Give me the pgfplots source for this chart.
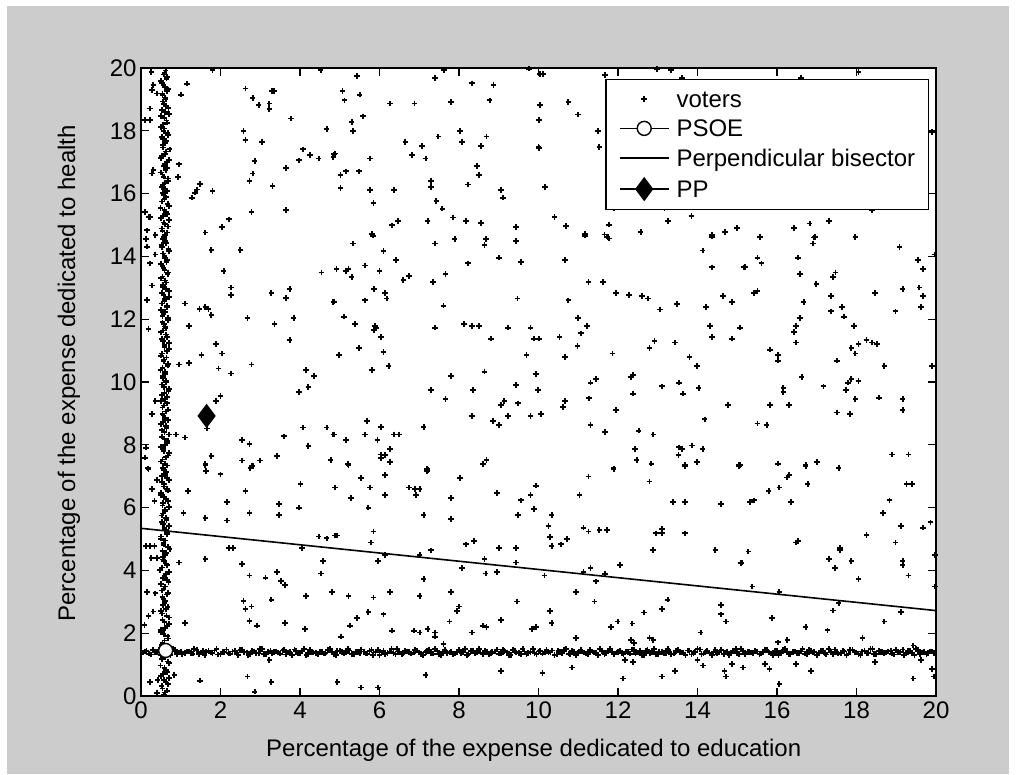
\documentclass[border=0pt]{standalone}
\usepackage{pgfplots}
\pgfplotsset{compat=1.18}
\usepackage{fontspec}
\setmainfont{Liberation Sans}
\definecolor{figgray}{RGB}{204,204,204}
\pgfplotsset{
  mylegend/.style={legend image code/.code={\draw[mark repeat=2,mark phase=2,##1] plot coordinates {(0pt,0pt)(24.5pt,0pt)(49pt,0pt)};}},
  mylinelegend/.style={legend image code/.code={\draw[##1] (0pt,0pt) -- (49pt,0pt);}},
  voterstyle/.style={only marks, mark=+, mark size=2.8pt, line width=1.8pt, black},
}
\begin{document}
\begin{tikzpicture}[x=1pt,y=1pt]
\fill[white] (0,0) rectangle (1025,774);
\fill[figgray] (7,0) rectangle (1009,768);
\begin{axis}[
  at={(141pt,78pt)}, anchor=south west,
  scale only axis, width=795pt, height=628pt,
  xmin=0, xmax=20, ymin=0, ymax=20,
  xtick={0,2,...,20}, ytick={0,2,...,20},
  tick align=inside, major tick length=8pt,
  axis line style={line width=1.3pt},
  every tick/.style={black, line width=1.3pt},
  tick label style={font=\fontsize{24}{28}\selectfont},
  yticklabel style={xshift=-1pt},
  xticklabel style={yshift=-2pt},
  /pgf/number format/assume math mode=true,
  label style={font=\fontsize{24}{28}\selectfont},
  xlabel={Percentage of the expense dedicated to education},
  ylabel={Percentage of the expense dedicated to health},
  xlabel style={at={(axis description cs:0.494,-0.086)}, anchor=center},
  ylabel style={at={(axis description cs:-0.0906,0.514)}, anchor=center},
  axis background/.style={fill=white},
  legend cell align=left,
  legend style={at={(axis description cs:0.9912,0.9825)}, anchor=north east,
    draw=black, line width=1.4pt, fill=white,
    font=\fontsize{24}{28}\selectfont,
    inner xsep=13pt, inner ysep=9.6pt, row sep=10.6pt,
    nodes={inner sep=0pt, text height=18pt, text depth=1pt},
    /tikz/every odd column/.append style={column sep=7pt}},
]
\addplot[voterstyle, mylegend]
coordinates {
(0.26,19.88)(0.31,19.45)(0.27,19.29)(0.40,19.19)(0.23,18.71)(0.10,18.34)(0.23,18.34)(0.31,16.75)(0.27,16.64)(0.10,15.42)(0.19,15.26)(0.23,15.26)(0.15,14.83)(0.36,14.68)
(1.15,19.5)(1.01,19.15)(0.96,16.93)(0.93,16.53)(1.49,16.30)(1.41,16.13)(1.36,16.03)(1.28,15.87)(1.80,16.08)(1.62,14.76)(2.04,14.94)(2.22,15.18)(1.80,19.93)
(2.63,19.35)(2.81,19.05)(2.96,18.82)(3.23,18.87)(3.23,18.69)(3.30,19.27)(3.34,19.27)(3.78,18.39)(2.58,17.99)(2.63,17.70)(3.05,17.65)(2.86,17.04)(2.81,16.64)(2.73,16.41)(3.31,16.24)(3.65,16.82)(3.97,17.06)(4.07,17.41)(4.25,17.22)(4.47,17.12)(4.85,17.25)(4.67,18.05)(4.52,19.93)(2.78,15.42)(3.65,15.47)
(5.44,19.75)(5.07,19.27)(5.50,19.15)(5.12,18.97)(6.27,18.87)(6.88,18.87)(7.80,18.92)(7.39,19.69)(7.63,19.93)(8.32,19.51)(8.87,19.45)(8.77,18.97)(9.76,19.98)(10.03,18.82)(10.01,18.34)(10.01,17.46)
(5.58,18.46)(5.30,18.28)(5.34,17.99)(6.65,17.65)(7.07,17.52)(7.48,17.82)(8.03,17.99)(8.08,17.64)(8.69,17.82)(8.55,17.52)(4.88,17.28)(4.84,17.17)(5.76,17.12)(6.82,17.22)(7.16,17.12)(8.45,16.87)(8.50,16.59)
(5.02,16.59)(5.16,16.71)(5.49,16.71)(5.02,16.18)(5.76,16.11)(6.37,16.11)(7.29,16.41)(7.29,16.21)(8.22,16.29)(9.06,16.11)(9.10,15.87)(5.85,15.70)(7.43,15.77)(7.58,15.52)(7.85,15.24)(8.18,15.12)(8.55,15.06)(9.43,14.94)(6.32,14.99)(6.47,15.12)(7.21,15.12)(5.81,14.71)(7.89,14.55)(8.68,14.55)
(10.04,19.80)(10.12,19.80)(11.68,19.77)(13.34,19.93)(12.98,19.97)(13.61,19.69)(10.04,18.82)(10.75,18.92)(10.0,18.34)(10.99,18.52)(11.49,17.99)(10.0,17.49)(11.53,17.49)(10.16,16.21)(11.89,15.55)(13.17,15.55)
(10.40,15.26)(10.69,14.96)(11.17,14.71)(11.78,15.01)(11.66,14.70)(11.74,14.62)(12.57,14.78)(13.26,15.12)(13.85,15.29)(14.37,14.68)(14.69,14.78)(15.00,14.91)
(16.61,19.69)(18.05,19.88)(18.39,15.47)(16.43,14.91)(16.82,15.05)(17.31,15.12)(15.57,14.62)(16.96,14.62)(17.97,14.62)(19.90,17.97)
(0.12,14.55)(0.15,14.31)(0.36,14.06)(0.23,13.78)(0.27,13.07)(0.15,12.61)(0.19,11.68)(0.36,9.39)(0.27,8.98)(0.12,7.91)(0.10,7.59)(0.17,7.25)
(1.77,14.20)(2.50,14.20)(2.08,13.54)(2.27,13.01)(2.27,12.77)(3.28,12.84)(3.65,12.68)(3.74,12.96)(4.54,13.49)(4.85,12.56)(1.11,12.50)(1.47,12.32)(1.62,12.39)(1.70,12.32)(1.77,12.13)(2.68,12.03)(3.36,11.85)(3.84,12.03)(1.20,11.79)(3.74,11.34)
(1.89,11.21)(2.04,10.91)(1.52,10.86)(0.96,10.56)(1.20,10.61)(1.95,10.43)(2.27,10.27)(2.78,10.56)(4.15,10.38)(4.35,10.20)(3.97,9.69)(4.21,9.85)(2.00,9.56)(1.89,9.39)(1.66,8.52)(4.07,8.55)(4.67,8.55)(4.85,8.33)(0.88,8.33)(1.11,8.23)
(2.54,8.15)(2.73,8.02)(3.60,8.27)(4.21,7.97)(1.77,7.64)(1.62,7.39)(2.54,7.50)(3.00,7.50)(2.81,7.33)(2.75,7.25)(3.42,7.64)(4.77,7.50)
(5.34,14.41)(5.83,14.66)(6.10,14.18)(6.42,13.89)(7.39,14.41)(7.89,14.54)(8.67,14.54)(8.64,14.36)(9.43,14.49)(9.01,13.96)(9.56,13.83)(8.22,13.78)(4.92,13.60)(5.16,13.53)(5.22,13.60)(5.30,13.35)(5.63,13.71)(6.00,13.54)(6.60,13.25)(6.74,13.37)(7.34,13.19)(7.66,13.43)
(4.84,12.54)(5.63,12.60)(5.86,12.96)(6.14,12.83)(6.18,12.66)(7.61,12.43)(9.47,12.66)(5.11,12.08)(5.39,11.85)(5.89,11.79)(5.91,11.71)(5.86,11.65)(6.04,11.43)(7.39,11.73)(8.12,11.85)(8.32,11.79)(8.50,11.79)(9.23,11.73)(9.80,11.73)(8.81,11.38)(9.88,11.38)(10.01,11.38)
(5.49,11.08)(6.10,10.96)(4.98,10.86)(9.70,10.86)(5.81,10.38)(6.23,10.50)(7.80,10.20)(8.64,10.33)(9.93,10.26)(7.29,9.74)(7.66,9.45)(8.35,9.74)(9.43,9.91)(9.98,9.74)(9.06,9.27)(9.14,9.39)(9.48,9.32)(8.32,8.92)(8.86,8.75)(9.01,8.63)(9.24,8.92)(9.80,8.92)
(5.68,8.75)(6.04,8.57)(7.11,8.57)(4.84,8.33)(5.16,8.16)(5.63,8.33)(5.95,8.16)(6.37,8.33)(6.50,8.33)(6.27,7.86)(6.04,7.69)(6.14,7.67)(6.04,7.57)(6.27,7.45)(4.77,7.51)(5.21,7.39)(8.60,7.39)(8.69,7.51)(7.19,7.23)
(11.17,14.66)(11.72,14.63)(11.78,14.57)(14.37,14.63)(14.13,14.19)(14.37,13.65)(15.17,13.65)(10.67,13.89)(11.26,13.19)(11.63,13.19)(11.95,12.84)(12.28,12.78)(12.60,12.73)(12.75,12.66)(13.06,12.31)(13.49,12.48)(14.22,12.38)(14.64,12.73)(14.87,12.55)
(10.75,12.60)(10.99,12.03)(11.22,11.79)(11.07,11.55)(10.98,11.15)(10.53,11.43)(10.01,11.38)(10.67,10.79)(11.86,10.91)(12.92,11.31)(12.79,11.08)(13.44,11.26)(14.32,11.79)(14.37,11.43)(15.06,11.73)(14.87,11.38)(13.80,10.79)(13.99,10.50)
(9.93,10.26)(9.98,9.74)(11.31,9.98)(11.45,10.09)(12.32,10.16)(12.37,10.22)(12.37,9.63)(13.11,9.86)(13.53,9.98)(13.63,9.63)(14.03,9.80)(11.27,9.48)(10.67,9.39)(10.62,9.21)(10.06,8.98)(11.95,9.10)(14.77,9.27)(14.18,8.81)(11.31,8.63)(11.68,8.40)(12.52,8.45)(12.89,8.33)
(12.42,7.86)(12.47,7.51)(12.84,7.40)(13.54,7.92)(13.61,7.86)(13.52,7.68)(13.86,7.98)(14.13,7.86)(13.99,7.45)(13.68,7.35)(15.05,7.35)(11.89,7.25)
(15.56,14.60)(16.93,14.60)(16.90,14.41)(17.97,14.60)(19.08,14.30)(15.19,13.66)(15.51,13.96)(15.61,13.78)(16.53,13.96)(16.58,13.43)(19.54,13.89)(19.67,13.60)(19.96,14.06)(17.41,13.35)(17.47,13.49)(16.99,13.13)(15.42,12.84)(15.51,12.90)(17.36,12.73)(18.47,12.84)(19.16,12.96)(19.58,13.01)(19.67,12.73)
(16.67,12.55)(17.64,12.38)(17.36,12.25)(17.69,12.08)(18.98,12.25)(19.62,12.38)(16.58,12.03)(16.48,11.79)(16.43,11.60)(16.48,11.26)(17.93,11.79)(15.07,11.73)(17.87,11.08)(18.05,11.21)(17.97,10.91)(18.25,11.33)(18.39,11.26)(18.52,11.21)(17.51,10.68)(18.70,10.50)(19.90,10.50)
(15.83,11.03)(16.02,10.86)(16.02,10.68)(16.62,10.15)(17.17,9.86)(17.74,9.74)(17.78,9.98)(17.87,10.09)(18.05,10.03)(16.16,9.80)(16.16,9.67)(17.97,9.45)(18.57,9.50)(19.16,9.45)(19.16,9.10)(15.83,9.27)(16.30,9.27)(17.51,9.03)(17.83,8.98)(15.51,8.68)(15.74,8.63)
(18.89,7.69)(19.31,7.69)(15.07,7.36)(16.02,7.40)(16.72,7.36)(17.0,7.45)(17.55,7.28)
(0.19,7.23)(0.27,6.59)(0.41,6.88)(0.34,6.21)(0.12,4.78)(0.23,4.78)(0.34,4.78)(0.26,4.39)(0.40,4.39)(0.15,3.31)(0.36,3.27)(0.31,2.69)(0.19,2.55)(0.09,2.26)(0.23,0.44)(0.40,0.09)(0.42,0.51)
(1.62,7.36)(1.64,7.17)(2.00,7.06)(2.75,7.28)(2.79,7.34)(1.18,6.53)(1.07,5.82)(1.62,5.66)(2.16,6.17)(2.16,5.59)(2.63,6.53)(2.73,5.82)(3.47,6.12)(3.47,5.77)(4.01,6.75)(3.97,6.00)(4.88,6.64)(4.47,5.08)(4.67,5.02)(4.88,5.11)
(2.22,4.71)(2.31,4.71)(4.05,4.71)(0.96,4.25)(1.62,4.36)(2.54,4.20)(2.73,3.84)(3.13,3.77)(3.42,3.94)(3.52,3.67)(3.62,3.54)(4.58,4.30)(4.53,3.90)(4.79,3.31)(4.15,3.19)(3.28,3.07)(2.58,3.03)(2.63,2.77)(2.78,2.85)(2.73,2.39)(2.92,2.24)(1.11,2.32)(3.62,2.32)(4.12,2.14)
(0.84,0.67)(1.48,0.49)(2.68,0.62)(3.28,0.44)(2.86,0.14)(3.23,1.15)
(5.22,7.36)(7.19,7.17)(7.21,7.19)(5.54,6.94)(6.14,7.04)(4.89,6.64)(5.76,6.64)(5.28,6.30)(6.14,6.40)(6.74,6.64)(6.90,6.59)(7.01,6.59)(6.92,6.40)(8.03,6.94)(8.96,6.46)(7.80,6.30)(5.72,6.00)(7.11,5.77)(7.80,5.64)(9.56,6.23)(9.80,6.40)(9.93,6.70)(9.88,5.95)(9.48,5.77)
(4.94,5.11)(5.85,5.24)(5.78,4.89)(5.96,4.30)(6.14,4.49)(7.01,4.49)(7.30,4.64)(8.18,4.83)(8.37,4.94)(9.01,4.71)(9.43,4.71)(9.43,4.25)(8.64,4.37)(8.08,4.07)(8.67,3.90)(8.96,3.94)(7.11,3.72)
(4.80,3.31)(5.22,3.19)(5.85,3.14)(6.27,3.31)(7.01,3.19)(7.80,3.31)(9.46,3.01)(8.00,2.85)(7.95,2.71)(5.72,2.67)(5.44,2.48)(6.10,2.60)(5.26,2.24)(5.03,1.89)(6.32,2.08)(6.87,2.08)(7.01,2.02)(7.21,2.14)(7.39,2.02)(7.39,1.89)(7.61,1.66)(7.76,2.37)(8.32,2.02)(8.60,2.24)(8.69,2.19)(9.06,2.42)(9.84,2.14)(9.94,2.19)
(4.94,0.44)(5.54,0.27)(5.96,0.27)(7.16,0.67)(9.06,0.80)
(11.89,7.23)(11.26,6.99)(12.79,6.83)(13.68,7.31)(15.05,7.31)(9.93,6.70)(11.03,6.40)(13.39,6.17)(13.68,6.17)(14.59,6.11)(10.33,5.77)(10.25,5.42)(11.13,5.36)(11.26,5.24)(11.53,5.29)(11.72,5.29)(10.29,5.07)(10.33,4.77)(10.57,4.83)(10.71,5.00)
(12.95,5.18)(13.11,5.31)(13.11,5.18)(13.68,5.18)(12.88,4.65)(14.45,4.65)(15.10,4.23)(12.05,4.17)(10.15,3.84)(11.13,3.94)(11.31,4.07)(11.44,3.65)(11.68,3.89)(10.94,3.31)(11.41,3.01)
(9.93,2.19)(10.29,2.71)(10.33,2.32)(11.83,2.19)(11.99,2.37)(12.36,2.31)(12.65,2.66)(13.11,2.77)(13.25,3.07)(14.59,2.90)(14.59,2.60)(14.72,2.37)(14.08,2.02)(10.94,1.84)(12.33,1.79)(12.40,1.68)(12.79,1.84)(12.89,1.79)
(12.18,1.15)(12.37,1.08)(10.85,0.91)(10.10,0.73)(12.13,0.56)(13.11,0.62)(13.44,0.79)(14.14,0.97)(14.00,1.15)(14.68,0.79)(14.72,0.62)(14.87,1.02)(15.14,0.91)
(16.72,7.33)(17.55,7.27)(16.31,7.04)(16.25,6.96)(16.06,6.64)(15.79,6.53)(16.77,6.75)(19.26,6.75)(19.40,6.75)(15.32,6.17)(15.42,6.23)(16.35,6.17)(18.83,6.23)(18.66,5.82)(19.12,5.42)(19.67,5.36)(19.86,5.53)(18.25,5.12)(18.98,4.89)(16.48,4.89)(16.53,4.94)
(15.28,4.60)(15.11,4.25)(17.59,4.71)(17.59,4.64)(17.31,4.37)(17.46,4.07)(17.87,4.30)(19.16,4.30)(19.16,4.17)(19.31,3.84)(18.05,3.72)(19.97,4.49)(19.97,3.49)(15.38,3.49)(16.06,3.31)
(17.41,2.72)(17.55,2.97)(19.12,2.67)(15.88,2.48)(18.70,2.37)(16.72,2.19)(17.27,2.09)(18.15,1.84)(16.02,1.71)(16.26,1.79)(19.43,1.61)
(15.15,0.91)(15.70,1.02)(15.81,0.86)(16.48,1.02)(16.85,0.79)(18.47,1.08)(19.62,1.15)(19.90,0.86)(19.94,0.62)(19.43,0.56)(16.06,0.39)
(0.58,0.05)(0.66,0.17)(0.52,0.31)(0.62,0.44)(0.70,0.57)(0.55,0.71)(0.63,0.83)(0.49,0.97)(0.68,1.10)(0.60,1.23)(0.56,1.37)(0.64,1.50)(0.53,1.63)(0.59,1.77)(0.67,1.90)(0.51,2.03)(0.61,2.16)(0.71,2.30)(0.54,2.43)(0.64,2.56)
(0.50,2.70)(0.67,2.83)(0.59,2.96)(0.57,3.10)(0.65,3.23)(0.52,3.36)(0.60,3.49)(0.69,3.63)(0.55,3.76)(0.62,3.89)(0.48,4.02)(0.66,4.16)(0.58,4.29)(0.54,4.42)(0.63,4.55)(0.72,4.69)(0.57,4.82)(0.61,4.95)(0.51,5.08)(0.67,5.22)
(0.59,5.35)(0.55,5.48)(0.64,5.61)(0.52,5.75)(0.60,5.88)(0.70,6.01)(0.56,6.14)(0.63,6.28)(0.49,6.41)(0.68,6.54)(0.58,6.67)(0.53,6.81)(0.65,6.94)(0.61,7.07)(0.57,7.20)(0.66,7.34)(0.51,7.47)(0.62,7.60)(0.71,7.73)(0.55,7.87)
(0.60,8.00)(0.67,8.13)(0.53,8.26)(0.59,8.40)(0.64,8.53)(0.50,8.66)(0.68,8.79)(0.57,8.93)(0.62,9.06)(0.54,9.19)(0.66,9.32)(0.60,9.46)(0.52,9.59)(0.69,9.72)(0.58,9.85)(0.63,9.99)(0.55,10.12)(0.61,10.25)(0.49,10.38)(0.67,10.52)
(0.57,10.65)(0.64,10.78)(0.53,10.91)(0.70,11.05)(0.59,11.18)(0.56,11.31)(0.65,11.44)(0.51,11.58)(0.62,11.71)(0.58,11.84)(0.68,11.97)(0.54,12.11)(0.61,12.24)(0.66,12.37)(0.52,12.50)(0.60,12.64)(0.57,12.77)(0.71,12.90)(0.55,13.03)(0.63,13.17)
(0.50,13.30)(0.67,13.43)(0.59,13.56)(0.54,13.70)(0.64,13.83)(0.61,13.96)(0.56,14.09)(0.69,14.23)(0.52,14.36)(0.62,14.49)(0.58,14.62)(0.66,14.76)(0.53,14.89)(0.60,15.02)(0.70,15.15)(0.55,15.29)(0.63,15.42)(0.49,15.55)(0.67,15.68)(0.59,15.82)
(0.57,15.95)(0.65,16.08)(0.52,16.21)(0.61,16.35)(0.68,16.48)(0.54,16.61)(0.62,16.74)(0.58,16.88)(0.66,17.01)(0.51,17.14)(0.60,17.27)(0.72,17.41)(0.56,17.54)(0.63,17.67)(0.53,17.80)(0.67,17.94)(0.59,18.07)(0.55,18.20)(0.64,18.33)(0.50,18.47)
(0.61,18.60)(0.69,18.73)(0.57,18.86)(0.62,19.00)(0.54,19.13)(0.66,19.26)(0.60,19.39)(0.52,19.53)(0.64,19.66)(0.58,19.79)(0.62,19.92)
(0.61,0.11)(0.54,0.24)(0.68,0.37)(0.57,0.51)(0.50,0.64)(0.65,0.77)(0.59,0.90)(0.70,1.04)(0.53,1.17)(0.63,1.30)(0.56,1.44)
(0.61,1.57)(0.54,1.70)(0.68,1.83)(0.57,1.97)(0.50,2.10)(0.65,2.23)(0.59,2.36)(0.70,2.50)(0.53,2.63)(0.63,2.76)(0.56,2.89)
(0.61,3.03)(0.54,3.16)(0.68,3.29)(0.57,3.42)(0.50,3.56)(0.65,3.69)(0.59,3.82)(0.70,3.95)(0.53,4.09)(0.63,4.22)(0.56,4.35)
(0.61,4.48)(0.54,4.62)(0.68,4.75)(0.57,4.88)(0.50,5.01)(0.65,5.15)(0.59,5.28)(0.70,5.41)(0.53,5.54)(0.63,5.68)(0.56,5.81)
(0.61,5.94)(0.54,6.07)(0.68,6.21)(0.57,6.34)(0.50,6.47)(0.65,6.60)(0.59,6.74)(0.70,6.87)(0.53,7.00)(0.63,7.13)(0.56,7.27)
(0.61,7.40)(0.54,7.53)(0.68,7.66)(0.57,7.80)(0.50,7.93)(0.65,8.06)(0.59,8.19)(0.70,8.33)(0.53,8.46)(0.63,8.59)(0.56,8.72)
(0.61,8.86)(0.54,8.99)(0.68,9.12)(0.57,9.25)(0.50,9.39)(0.65,9.52)(0.59,9.65)(0.70,9.78)(0.53,9.92)(0.63,10.05)(0.56,10.18)
(0.61,10.31)(0.54,10.45)(0.68,10.58)(0.57,10.71)(0.50,10.84)(0.65,10.98)(0.59,11.11)(0.70,11.24)(0.53,11.37)(0.63,11.51)(0.56,11.64)
(0.61,11.77)(0.54,11.90)(0.68,12.04)(0.57,12.17)(0.50,12.30)(0.65,12.43)(0.59,12.57)(0.70,12.70)(0.53,12.83)(0.63,12.96)(0.56,13.10)
(0.61,13.23)(0.54,13.36)(0.68,13.49)(0.57,13.63)(0.50,13.76)(0.65,13.89)(0.59,14.02)(0.70,14.16)(0.53,14.29)(0.63,14.42)(0.56,14.55)
(0.61,14.69)(0.54,14.82)(0.68,14.95)(0.57,15.08)(0.50,15.22)(0.65,15.35)(0.59,15.48)(0.70,15.61)(0.53,15.75)(0.63,15.88)(0.56,16.01)
(0.61,16.14)(0.54,16.28)(0.68,16.41)(0.57,16.54)(0.50,16.67)(0.65,16.81)(0.59,16.94)(0.70,17.07)(0.53,17.20)(0.63,17.34)(0.56,17.47)
(0.61,17.60)(0.54,17.73)(0.68,17.87)(0.57,18.00)(0.50,18.13)(0.65,18.26)(0.59,18.40)(0.70,18.53)(0.53,18.66)(0.63,18.79)(0.56,18.93)
(0.61,19.06)(0.54,19.19)(0.68,19.32)(0.57,19.46)(0.50,19.59)(0.65,19.72)(0.59,19.85)
(0.05,1.38)(0.14,1.45)(0.26,1.32)(0.35,1.41)(0.44,1.48)(0.56,1.35)(0.65,1.43)(0.74,1.30)(0.86,1.46)(0.95,1.39)(1.04,1.34)(1.16,1.42)(1.25,1.37)(1.34,1.50)(1.46,1.33)(1.55,1.44)(1.64,1.40)
(1.76,1.38)(1.85,1.45)(1.94,1.32)(2.06,1.41)(2.15,1.48)(2.24,1.35)(2.36,1.43)(2.45,1.30)(2.54,1.46)(2.66,1.39)(2.75,1.34)(2.84,1.42)(2.96,1.37)(3.05,1.50)(3.14,1.33)(3.26,1.44)(3.35,1.40)
(3.44,1.38)(3.56,1.45)(3.65,1.32)(3.74,1.41)(3.86,1.48)(3.95,1.35)(4.04,1.43)(4.16,1.30)(4.25,1.46)(4.34,1.39)(4.46,1.34)(4.55,1.42)(4.64,1.37)(4.76,1.50)(4.85,1.33)(4.94,1.44)(5.06,1.40)
(5.15,1.38)(5.24,1.45)(5.36,1.32)(5.45,1.41)(5.54,1.48)(5.66,1.35)(5.75,1.43)(5.84,1.30)(5.96,1.46)(6.05,1.39)(6.14,1.34)(6.26,1.42)(6.35,1.37)(6.44,1.50)(6.56,1.33)(6.65,1.44)(6.74,1.40)
(6.86,1.38)(6.95,1.45)(7.04,1.32)(7.16,1.41)(7.25,1.48)(7.34,1.35)(7.46,1.43)(7.55,1.30)(7.64,1.46)(7.76,1.39)(7.85,1.34)(7.94,1.42)(8.06,1.37)(8.15,1.50)(8.24,1.33)(8.36,1.44)(8.45,1.40)
(8.54,1.38)(8.66,1.45)(8.75,1.32)(8.84,1.41)(8.96,1.48)(9.05,1.35)(9.14,1.43)(9.26,1.30)(9.35,1.46)(9.44,1.39)(9.56,1.34)(9.65,1.42)(9.74,1.37)(9.86,1.50)(9.95,1.33)(10.04,1.44)(10.16,1.40)
(10.25,1.38)(10.34,1.45)(10.46,1.32)(10.55,1.41)(10.64,1.48)(10.76,1.35)(10.85,1.43)(10.94,1.30)(11.06,1.46)(11.15,1.39)(11.24,1.34)(11.36,1.42)(11.45,1.37)(11.54,1.50)(11.66,1.33)(11.75,1.44)(11.84,1.40)
(11.96,1.38)(12.05,1.45)(12.14,1.32)(12.26,1.41)(12.35,1.48)(12.44,1.35)(12.56,1.43)(12.65,1.30)(12.74,1.46)(12.86,1.39)(12.95,1.34)(13.04,1.42)(13.16,1.37)(13.25,1.50)(13.34,1.33)(13.46,1.44)(13.55,1.40)
(13.64,1.38)(13.76,1.45)(13.85,1.32)(13.94,1.41)(14.06,1.48)(14.15,1.35)(14.24,1.43)(14.36,1.30)(14.45,1.46)(14.54,1.39)(14.66,1.34)(14.75,1.42)(14.84,1.37)(14.96,1.50)(15.05,1.33)(15.14,1.44)(15.26,1.40)
(15.35,1.38)(15.44,1.45)(15.56,1.32)(15.65,1.41)(15.74,1.48)(15.86,1.35)(15.95,1.43)(16.04,1.30)(16.16,1.46)(16.25,1.39)(16.34,1.34)(16.46,1.42)(16.55,1.37)(16.64,1.50)(16.76,1.33)(16.85,1.44)(16.94,1.40)
(17.06,1.38)(17.15,1.45)(17.24,1.32)(17.36,1.41)(17.45,1.48)(17.54,1.35)(17.66,1.43)(17.75,1.30)(17.84,1.46)(17.96,1.39)(18.05,1.34)(18.14,1.42)(18.26,1.37)(18.35,1.50)(18.44,1.33)(18.56,1.44)(18.65,1.40)
(18.74,1.38)(18.86,1.45)(18.95,1.32)(19.04,1.41)(19.16,1.48)(19.25,1.35)(19.34,1.43)(19.46,1.30)(19.55,1.46)(19.64,1.39)(19.76,1.34)(19.85,1.42)(19.94,1.37)
(0.10,1.42)(0.20,1.35)(0.30,1.47)(0.40,1.39)(0.50,1.31)(0.60,1.44)(0.70,1.37)(0.80,1.49)(0.90,1.34)(1.00,1.41)(1.10,1.36)
(1.20,1.42)(1.30,1.35)(1.40,1.47)(1.50,1.39)(1.60,1.31)(1.70,1.44)(1.80,1.37)(1.90,1.49)(2.00,1.34)(2.10,1.41)(2.20,1.36)
(2.30,1.42)(2.40,1.35)(2.50,1.47)(2.60,1.39)(2.70,1.31)(2.80,1.44)(2.90,1.37)(3.00,1.49)(3.10,1.34)(3.20,1.41)(3.30,1.36)
(3.40,1.42)(3.50,1.35)(3.60,1.47)(3.70,1.39)(3.80,1.31)(3.90,1.44)(4.00,1.37)(4.10,1.49)(4.20,1.34)(4.30,1.41)(4.40,1.36)
(4.50,1.42)(4.60,1.35)(4.70,1.47)(4.80,1.39)(4.90,1.31)(5.00,1.44)(5.10,1.37)(5.20,1.49)(5.30,1.34)(5.40,1.41)(5.50,1.36)
(5.60,1.42)(5.70,1.35)(5.80,1.47)(5.90,1.39)(6.00,1.31)(6.10,1.44)(6.20,1.37)(6.30,1.49)(6.40,1.34)(6.50,1.41)(6.60,1.36)
(6.70,1.42)(6.80,1.35)(6.90,1.47)(7.00,1.39)(7.10,1.31)(7.20,1.44)(7.30,1.37)(7.40,1.49)(7.50,1.34)(7.60,1.41)(7.70,1.36)
(7.80,1.42)(7.90,1.35)(8.00,1.47)(8.10,1.39)(8.20,1.31)(8.30,1.44)(8.40,1.37)(8.50,1.49)(8.60,1.34)(8.70,1.41)(8.80,1.36)
(8.90,1.42)(9.00,1.35)(9.10,1.47)(9.20,1.39)(9.30,1.31)(9.40,1.44)(9.50,1.37)(9.60,1.49)(9.70,1.34)(9.80,1.41)(9.90,1.36)
(10.00,1.42)(10.10,1.35)(10.20,1.47)(10.30,1.39)(10.40,1.31)(10.50,1.44)(10.60,1.37)(10.70,1.49)(10.80,1.34)(10.90,1.41)(11.00,1.36)
(11.10,1.42)(11.20,1.35)(11.30,1.47)(11.40,1.39)(11.50,1.31)(11.60,1.44)(11.70,1.37)(11.80,1.49)(11.90,1.34)(12.00,1.41)(12.10,1.36)
(12.20,1.42)(12.30,1.35)(12.40,1.47)(12.50,1.39)(12.60,1.31)(12.70,1.44)(12.80,1.37)(12.90,1.49)(13.00,1.34)(13.10,1.41)(13.20,1.36)
(13.30,1.42)(13.40,1.35)(13.50,1.47)(13.60,1.39)(13.70,1.31)(13.80,1.44)(13.90,1.37)(14.00,1.49)(14.10,1.34)(14.20,1.41)(14.30,1.36)
(14.40,1.42)(14.50,1.35)(14.60,1.47)(14.70,1.39)(14.80,1.31)(14.90,1.44)(15.00,1.37)(15.10,1.49)(15.20,1.34)(15.30,1.41)(15.40,1.36)
(15.50,1.42)(15.60,1.35)(15.70,1.47)(15.80,1.39)(15.90,1.31)(16.00,1.44)(16.10,1.37)(16.20,1.49)(16.30,1.34)(16.40,1.41)(16.50,1.36)
(16.60,1.42)(16.70,1.35)(16.80,1.47)(16.90,1.39)(17.00,1.31)(17.10,1.44)(17.20,1.37)(17.30,1.49)(17.40,1.34)(17.50,1.41)(17.60,1.36)
(17.70,1.42)(17.80,1.35)(17.90,1.47)(18.00,1.39)(18.10,1.31)(18.20,1.44)(18.30,1.37)(18.40,1.49)(18.50,1.34)(18.60,1.41)(18.70,1.36)
(18.80,1.42)(18.90,1.35)(19.00,1.47)(19.10,1.39)(19.20,1.31)(19.30,1.44)(19.40,1.37)(19.50,1.49)(19.60,1.34)(19.70,1.41)(19.80,1.36)(19.90,1.42)
};
\addlegendentry{voters}
\addplot[black, line width=1.4pt, mark=*, mark size=7pt, mark options={fill=white, draw=black, line width=1.4pt}, mylegend]
coordinates {(0.62,1.45)};
\addlegendentry{PSOE}
\addplot[black, line width=1.6pt, no marks, mylinelegend]
coordinates {(0,5.34)(20,2.72)};
\addlegendentry{Perpendicular bisector}
\addplot[black, line width=1.4pt, mark=diamond*, mark size=11pt, mark options={fill=black}, mylegend]
coordinates {(1.65,8.92)};
\addlegendentry{PP}
\end{axis}
\pgfresetboundingbox
\path (0,0) rectangle (1025,774);
\end{tikzpicture}
\end{document}
